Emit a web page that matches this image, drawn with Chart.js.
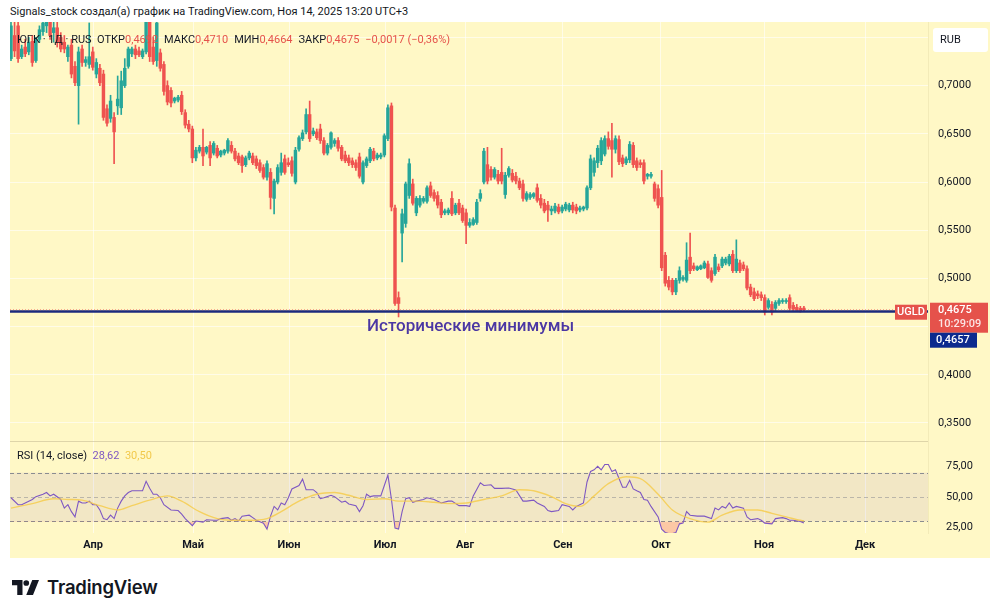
<!DOCTYPE html>
<html>
<head>
<meta charset="utf-8">
<script src="https://cdn.jsdelivr.net/npm/chart.js@4.4.1/dist/chart.umd.min.js"></script>
<style>
  body { margin:0; width:1000px; height:614px; background:#fff; position:relative; overflow:hidden;
         font-family: Roboto, "Noto Sans", sans-serif; color:#131722; }
  #bg { position:absolute; left:10px; top:22px; width:980px; height:536px; background:#FFF8C6; }
  .box { position:absolute; }
  #hdr { position:absolute; left:10px; top:5px; font-size:11px; color:#131722; white-space:nowrap; }
  #legend { position:absolute; left:17px; top:33px; font-size:11px; white-space:nowrap; }
  #legend .v { color:#E5524B; margin-right:6px; }
  #note { position:absolute; left:367px; top:315px; font-size:17px; font-weight:500; color:#4B37A3; white-space:nowrap; }
  #rsiHdr { position:absolute; left:17px; top:449px; font-size:11px; white-space:nowrap; }
  #logo { position:absolute; left:12px; top:576px; display:flex; align-items:center; }
  #logo span { font-family: Inter, Roboto, sans-serif; font-weight:600; font-size:18.5px; margin-left:8px; letter-spacing:-0.2px; }
</style>
</head>
<body>
<div id="bg"></div>
<div id="hdr">Signals_stock создал(а) график на TradingView.com, Ноя 14, 2025 13:20 UTC+3</div>
<div class="box" style="left:0;top:22px;width:1000px;height:419px;"><canvas id="price"></canvas></div>
<div class="box" style="left:0;top:441px;width:1000px;height:119px;"><canvas id="rsi"></canvas></div>
<div id="legend">ЮГК · 1Д · RUS&nbsp; ОТКР<span class="v">0,4692</span>МАКС<span class="v">0,4710</span>МИН<span class="v">0,4664</span>ЗАКР<span class="v">0,4675</span><span class="v">−0,0017 (−0,36%)</span></div>
<div id="note">Исторические минимумы</div>
<div id="rsiHdr">RSI (14, close)&nbsp; <span style="color:#7E57C2">28,62</span>&nbsp; <span style="color:#F2C94C">30,50</span></div>
<div id="logo">
  <svg width="27" height="15" viewBox="0 0 36 20"><path d="M0 0h14v20h-7v-13h-7z" fill="#131722"/><circle cx="19" cy="4" r="3.8" fill="#131722"/><path d="M27 0h9l-8 20h-9z" fill="#131722"/></svg>
  <span>TradingView</span>
</div>
<script>
// daily candles [open, high, low, close], one per session
const candles = [
  [0.728,0.772,0.726,0.762],[0.752,0.77,0.73,0.736],[0.762,0.772,0.724,0.728],[0.73,0.742,0.728,0.738],[0.74,0.748,0.73,0.733],
  [0.735,0.75,0.732,0.745],[0.746,0.752,0.72,0.724],[0.726,0.75,0.724,0.748],[0.748,0.762,0.745,0.758],[0.756,0.77,0.752,0.765],
  [0.762,0.775,0.755,0.77],[0.77,0.78,0.748,0.752],[0.755,0.775,0.745,0.76],[0.76,0.772,0.74,0.745],[0.75,0.755,0.735,0.738],
  [0.745,0.752,0.734,0.738],[0.73,0.742,0.725,0.74],[0.742,0.748,0.708,0.712],[0.72,0.725,0.70,0.703],[0.70,0.74,0.66,0.735],
  [0.738,0.742,0.72,0.724],[0.724,0.73,0.72,0.727],[0.722,0.765,0.718,0.73],[0.735,0.74,0.716,0.719],[0.712,0.728,0.708,0.724],
  [0.718,0.722,0.70,0.703],[0.712,0.716,0.664,0.667],[0.676,0.68,0.658,0.661],[0.666,0.69,0.662,0.684],[0.667,0.672,0.619,0.652],
  [0.679,0.71,0.67,0.686],[0.677,0.715,0.67,0.705],[0.70,0.728,0.698,0.718],[0.72,0.74,0.718,0.738],[0.733,0.74,0.73,0.738],
  [0.738,0.742,0.728,0.732],[0.736,0.74,0.73,0.732],[0.73,0.738,0.728,0.736],[0.735,0.78,0.733,0.77],[0.77,0.78,0.725,0.73],
  [0.74,0.75,0.722,0.725],[0.726,0.78,0.72,0.765],[0.734,0.738,0.715,0.718],[0.722,0.725,0.69,0.694],[0.70,0.705,0.68,0.683],
  [0.695,0.698,0.678,0.682],[0.684,0.688,0.682,0.687],[0.685,0.69,0.683,0.688],[0.69,0.694,0.67,0.673],[0.672,0.675,0.656,0.659],
  [0.66,0.664,0.652,0.655],[0.655,0.658,0.62,0.625],[0.625,0.636,0.622,0.633],[0.632,0.638,0.63,0.636],[0.636,0.655,0.617,0.627],
  [0.631,0.637,0.629,0.636],[0.638,0.642,0.617,0.625],[0.63,0.642,0.628,0.64],[0.635,0.638,0.625,0.627],[0.628,0.633,0.626,0.632],
  [0.63,0.634,0.628,0.633],[0.632,0.645,0.63,0.643],[0.638,0.642,0.63,0.632],[0.632,0.635,0.622,0.624],[0.627,0.63,0.618,0.62],
  [0.626,0.628,0.61,0.617],[0.618,0.627,0.616,0.625],[0.625,0.632,0.623,0.63],[0.627,0.63,0.618,0.62],[0.624,0.627,0.614,0.617],
  [0.62,0.623,0.61,0.612],[0.615,0.618,0.603,0.605],[0.605,0.622,0.602,0.619],[0.61,0.614,0.572,0.584],[0.583,0.603,0.567,0.601],
  [0.60,0.618,0.598,0.615],[0.61,0.63,0.607,0.62],[0.624,0.628,0.608,0.61],[0.62,0.625,0.616,0.618],[0.622,0.626,0.606,0.609],
  [0.60,0.636,0.598,0.633],[0.634,0.648,0.632,0.646],[0.645,0.654,0.643,0.651],[0.652,0.676,0.65,0.67],[0.67,0.684,0.642,0.645],
  [0.65,0.656,0.648,0.653],[0.652,0.655,0.644,0.646],[0.655,0.66,0.64,0.643],[0.643,0.646,0.628,0.63],[0.63,0.64,0.628,0.638],
  [0.636,0.652,0.634,0.651],[0.64,0.645,0.637,0.643],[0.643,0.646,0.632,0.635],[0.636,0.638,0.622,0.624],[0.628,0.632,0.62,0.622],
  [0.625,0.628,0.617,0.62],[0.622,0.625,0.615,0.618],[0.62,0.623,0.612,0.615],[0.626,0.63,0.604,0.606],[0.60,0.622,0.598,0.62],
  [0.617,0.626,0.615,0.624],[0.622,0.636,0.62,0.634],[0.632,0.635,0.622,0.624],[0.625,0.63,0.623,0.628],[0.626,0.63,0.624,0.628],
  [0.628,0.65,0.626,0.648],[0.645,0.68,0.643,0.677],[0.679,0.682,0.57,0.574],[0.573,0.576,0.472,0.474],[0.48,0.486,0.46,0.474],
  [0.547,0.572,0.517,0.567],[0.557,0.60,0.553,0.598],[0.586,0.624,0.583,0.619],[0.598,0.603,0.576,0.578],[0.568,0.585,0.565,0.583],
  [0.576,0.586,0.574,0.583],[0.58,0.585,0.578,0.583],[0.58,0.596,0.578,0.594],[0.596,0.60,0.584,0.586],[0.589,0.592,0.58,0.583],
  [0.586,0.59,0.573,0.576],[0.579,0.582,0.563,0.566],[0.568,0.572,0.566,0.57],[0.568,0.573,0.566,0.571],[0.583,0.59,0.565,0.567],
  [0.568,0.578,0.566,0.576],[0.578,0.582,0.566,0.568],[0.573,0.576,0.558,0.56],[0.568,0.572,0.536,0.555],[0.555,0.562,0.553,0.558],
  [0.556,0.563,0.555,0.561],[0.558,0.582,0.556,0.579],[0.583,0.592,0.58,0.588],[0.60,0.635,0.598,0.632],[0.618,0.636,0.598,0.601],
  [0.613,0.616,0.602,0.605],[0.605,0.615,0.603,0.613],[0.608,0.612,0.598,0.601],[0.61,0.635,0.598,0.601],[0.587,0.61,0.583,0.607],
  [0.607,0.616,0.605,0.614],[0.609,0.613,0.60,0.602],[0.606,0.61,0.598,0.601],[0.601,0.604,0.592,0.594],[0.598,0.602,0.58,0.583],
  [0.582,0.59,0.58,0.588],[0.584,0.589,0.582,0.587],[0.585,0.589,0.583,0.588],[0.594,0.598,0.579,0.581],[0.583,0.587,0.573,0.576],
  [0.578,0.582,0.568,0.57],[0.576,0.58,0.559,0.571],[0.57,0.575,0.566,0.572],[0.57,0.578,0.568,0.575],[0.574,0.577,0.567,0.569],
  [0.57,0.576,0.568,0.574],[0.572,0.579,0.57,0.577],[0.571,0.578,0.569,0.576],[0.576,0.579,0.568,0.571],[0.574,0.577,0.567,0.57],
  [0.571,0.575,0.569,0.573],[0.572,0.575,0.57,0.574],[0.573,0.596,0.571,0.594],[0.594,0.628,0.592,0.624],[0.61,0.625,0.606,0.622],
  [0.62,0.638,0.615,0.635],[0.622,0.646,0.618,0.643],[0.629,0.648,0.627,0.645],[0.645,0.652,0.634,0.637],[0.643,0.661,0.605,0.634],
  [0.634,0.648,0.63,0.645],[0.644,0.648,0.618,0.621],[0.625,0.628,0.616,0.619],[0.62,0.626,0.618,0.624],[0.623,0.642,0.62,0.639],
  [0.638,0.641,0.615,0.618],[0.622,0.625,0.612,0.615],[0.62,0.623,0.615,0.618],[0.62,0.623,0.598,0.601],[0.606,0.609,0.603,0.608],
  [0.606,0.61,0.604,0.608],[0.598,0.60,0.58,0.583],[0.593,0.597,0.573,0.576],[0.584,0.612,0.508,0.511],[0.524,0.527,0.492,0.495],
  [0.498,0.502,0.488,0.491],[0.498,0.50,0.483,0.486],[0.486,0.50,0.483,0.498],[0.498,0.512,0.495,0.508],[0.499,0.503,0.497,0.501],
  [0.498,0.537,0.496,0.519],[0.522,0.547,0.505,0.508],[0.513,0.516,0.508,0.51],[0.509,0.513,0.508,0.512],[0.51,0.514,0.509,0.513],
  [0.511,0.518,0.51,0.516],[0.515,0.518,0.50,0.501],[0.508,0.511,0.496,0.498],[0.505,0.525,0.503,0.522],[0.512,0.515,0.507,0.509],
  [0.513,0.522,0.511,0.52],[0.516,0.522,0.514,0.52],[0.515,0.525,0.513,0.523],[0.525,0.529,0.506,0.508],[0.508,0.54,0.506,0.52],
  [0.516,0.519,0.506,0.508],[0.514,0.517,0.508,0.51],[0.51,0.513,0.488,0.49],[0.491,0.494,0.481,0.483],[0.486,0.49,0.477,0.479],
  [0.484,0.487,0.479,0.482],[0.483,0.486,0.477,0.48],[0.48,0.483,0.462,0.465],[0.47,0.479,0.468,0.477],[0.473,0.476,0.462,0.465],
  [0.469,0.477,0.466,0.475],[0.474,0.479,0.472,0.477],[0.476,0.479,0.474,0.477],[0.476,0.479,0.474,0.477],[0.48,0.483,0.467,0.469],
  [0.472,0.475,0.466,0.468],[0.47,0.473,0.466,0.467],[0.469,0.471,0.465,0.466],[0.4692,0.471,0.4664,0.4675]
];

// RSI(14): session index -> value
const rsiIdx = [0,2,3,5,6,7,9,10,11,12,14,15,16,17,18,19,20,21,22,23,24,25,26,27,28,29,30,31,32,33,34,36,37,38,39,40,41,42,43,45,47,48,49,51,52,54,55,57,58,59,61,62,63,64,65,67,68,69,71,72,73,74,75,76,77,78,79,81,82,83,85,86,87,88,90,91,93,94,95,97,98,99,100,101,102,104,105,106,107,108,109,110,111,112,113,114,116,117,119,121,123,124,126,128,129,130,132,133,135,136,138,140,142,144,145,147,148,150,151,152,154,155,157,158,159,161,162,163,164,165,166,167,168,169,170,171,172,173,174,175,176,177,178,179,180,182,183,184,185,186,187,188,189,190,191,193,195,197,198,199,200,201,202,203,204,206,207,208,210,211,212,214,215,217,218,219,220,222,223];
const rsiVal = [49.4,43.7,43.7,46.6,48,50.3,52.3,53.7,50.9,52.3,48,40.9,43.7,38,33.7,46.6,45.1,45.1,46.6,43.7,43.7,39.4,32.3,31.4,35.1,32.3,40.9,46.6,50.9,53.7,55.1,55.1,55.1,62.9,57.1,52.3,52.3,49.4,43.7,39.4,38.9,36,32.3,26.6,30.3,29.4,31.4,30.9,30.9,32.3,33.1,30.9,32.3,30.3,34.3,35.1,33.1,30.9,28.6,23.7,34.3,42.3,39.4,45.1,43.7,49.4,56.6,59.4,64.6,56,56,53.7,48.6,49.4,51.4,50.3,45.7,46.6,44.3,42.9,38,42.9,52.3,50.3,50.9,50.9,59.4,68,48,24.6,23.7,38,48.6,49.4,45.7,46.6,48,49.4,48,45.1,46.6,46.6,42.9,42.9,42.3,50.9,61.7,59.4,60,57.1,57.1,57.4,55.7,46.6,46.6,47.4,45.1,42.3,38.9,38,38.9,43.7,42.3,39.4,42.3,45.1,62.3,70.9,72.3,75.1,72.3,76.6,76.6,70.9,72.3,65.1,58,58,63.7,56.6,55.1,53.7,48,47.4,42.3,33.7,23.7,20.9,20,20,20.9,28,28.6,38,35.1,34.3,34.3,32.3,40.9,39.4,42.3,40.9,45.1,40.9,42.3,40.9,33.7,31.4,32.3,30.9,28.6,28,32.3,33.1,32.3,30.9,30.9,30,28.6];

// RSI-based moving average (yellow), read at sparser sessions
const maIdx = [0,6,12,16,20,25,30,34,39,44,48,53,58,62,67,72,76,81,86,91,95,100,105,109,114,119,123,128,133,138,143,147,152,156,160,164,168,173,177,182,186,191,196,200,205,210,214,218,222,223];
const maVal = [40.9,44.6,48.6,48,47.4,42.9,39.4,42.9,47.4,50.9,46.6,38,32.3,30.9,30.9,32.3,38,46.6,52.3,53.7,51.4,48,48.6,46.6,46.6,45.7,44.6,45.1,48,50.9,56,55.1,50.3,44.6,42.3,50.9,60.9,66.6,65.1,52.3,39.4,32.3,29.4,35.1,39.4,39.4,36.6,33.7,30.9,30.5];

const months = ['Апр','Май','Июн','Июл','Авг','Сен','Окт','Ноя','Дек'];
const monthIdx = [23.1, 51.2, 78.2, 105.2, 127.7, 155.2, 182.8, 211.8, 240.2];
const priceTicks = [0.35, 0.40, 0.45, 0.50, 0.55, 0.60, 0.65, 0.70, 0.75];
const rsiTicks = [25, 50, 75];
const rsiLevels = [70, 50, 30];
const lastPrice = 0.4675;
const lowLevel = 0.4657;

const UP = '#26A69A', DOWN = '#EF5350', BG_GRID = 'rgba(255,255,255,0.6)';
const xMin = -0.28, xMax = 257.9;
Chart.defaults.font.family = 'Roboto, "Noto Sans", sans-serif';
Chart.defaults.color = '#131722';

const comma = (v, d) => v.toFixed(d).replace('.', ',');
const colorOf = c => c[3] >= c[0] ? UP : DOWN;
// fixed-width right axis, no extra label padding at the pane edges
const fitRight = s => { s.width = 72; s.paddingTop = 0; s.paddingBottom = 0; };

const xScale = (showLabels) => ({
  type: 'linear', min: xMin, max: xMax, offset: false,
  afterBuildTicks: s => { s.ticks = monthIdx.map(v => ({ value: v })); },
  afterFit: s => { s.height = showLabels ? 27 : 0; s.paddingLeft = 0; s.paddingRight = 0; },
  grid: { color: BG_GRID, drawTicks: false, offset: false },
  border: { display: false },
  ticks: {
    display: showLabels, padding: 6, maxRotation: 0, autoSkip: false,
    font: { size: 11, weight: 'bold' },
    callback: v => months[monthIdx.indexOf(v)]
  }
});

const priceOverlay = {
  id: 'priceOverlay',
  afterDraw(chart) {
    const { ctx, chartArea: a, scales: { y } } = chart;
    const yl = y.getPixelForValue(lowLevel);
    const yp = y.getPixelForValue(lastPrice);
    ctx.save();
    ctx.strokeStyle = '#1B2A7C'; ctx.lineWidth = 2.5;
    ctx.beginPath(); ctx.moveTo(a.left, yl); ctx.lineTo(a.right, yl); ctx.stroke();
    ctx.strokeStyle = 'rgba(239,83,80,0.6)'; ctx.lineWidth = 1; ctx.setLineDash([1, 2]);
    ctx.beginPath(); ctx.moveTo(a.left, yp); ctx.lineTo(a.right, yp); ctx.stroke();
    ctx.setLineDash([]);
    // symbol tag
    ctx.fillStyle = '#E5524B';
    ctx.fillRect(a.right - 33, yp - 5, 32, 15);
    ctx.fillStyle = '#fff'; ctx.font = '500 11px Roboto'; ctx.textAlign = 'center'; ctx.textBaseline = 'middle';
    ctx.fillText('UGLD', a.right - 17, yp + 3);
    // last price + countdown
    ctx.fillStyle = '#E5524B';
    ctx.fillRect(a.right + 2, yp - 7, 58, 30);
    ctx.fillStyle = '#fff'; ctx.textAlign = 'left';
    ctx.fillText(comma(lastPrice, 4), a.right + 10, yp + 1);
    ctx.fillStyle = 'rgba(255,255,255,0.85)';
    ctx.fillText('10:29:09', a.right + 10, yp + 15);
    // level tag
    ctx.fillStyle = '#0C2A8E';
    ctx.fillRect(a.right + 2, yp + 23, 47, 15);
    ctx.fillStyle = '#fff';
    ctx.fillText(comma(lowLevel, 4), a.right + 8, yp + 31);
    // currency box
    ctx.fillStyle = '#fff';
    ctx.beginPath(); ctx.roundRect(a.right + 5, 6, 55, 24, 3); ctx.fill();
    ctx.fillStyle = '#131722'; ctx.font = '11px Roboto';
    ctx.fillText('RUB', a.right + 12, 18);
    ctx.restore();
  }
};

new Chart(document.getElementById('price'), {
  type: 'bar',
  data: {
    datasets: [{
      data: candles.map((c, i) => ({ x: i, y: [c[2], c[1]] })),
      backgroundColor: candles.map(colorOf),
      barThickness: 1, grouped: false
    }, {
      data: candles.map((c, i) => ({ x: i, y: [c[0], c[3]] })),
      backgroundColor: candles.map(colorOf),
      barThickness: 2.8, minBarLength: 1, grouped: false
    }]
  },
  options: {
    responsive: true, maintainAspectRatio: false, animation: false,
    layout: { autoPadding: false, padding: { left: 10, right: 0, top: 0, bottom: 0 } },
    plugins: { legend: { display: false }, tooltip: { enabled: false } },
    scales: {
      x: xScale(false),
      y: {
        position: 'right', min: 0.3313, max: 0.766,
        afterBuildTicks: s => { s.ticks = priceTicks.map(v => ({ value: v })); },
        afterFit: fitRight,
        grid: { color: BG_GRID, drawTicks: false },
        border: { display: true, color: '#F3EBB8' },
        ticks: { padding: 10, font: { size: 11 }, callback: v => comma(v, 4) }
      }
    }
  },
  plugins: [priceOverlay]
});

const rsiBand = {
  id: 'rsiBand',
  beforeDatasetsDraw(chart) {
    const { ctx, chartArea: a, scales: { y } } = chart;
    ctx.save();
    ctx.fillStyle = 'rgba(126,87,194,0.1)';
    ctx.fillRect(a.left, y.getPixelForValue(70), a.width, y.getPixelForValue(30) - y.getPixelForValue(70));
    ctx.setLineDash([4, 3]); ctx.lineWidth = 1;
    rsiLevels.forEach(v => {
      ctx.strokeStyle = v === 50 ? 'rgba(120,123,134,0.45)' : 'rgba(120,123,134,0.85)';
      const yy = Math.round(y.getPixelForValue(v)) + 0.5;
      ctx.beginPath(); ctx.moveTo(a.left, yy); ctx.lineTo(a.right, yy); ctx.stroke();
    });
    ctx.setLineDash([]);
    ctx.strokeStyle = 'rgba(200,190,150,0.6)';
    ctx.beginPath(); ctx.moveTo(a.left, a.top + 0.5); ctx.lineTo(a.right, a.top + 0.5); ctx.stroke();
    ctx.restore();
  }
};

new Chart(document.getElementById('rsi'), {
  type: 'line',
  data: {
    datasets: [{
      data: maIdx.map((x, i) => ({ x, y: maVal[i] })),
      borderColor: 'rgba(246,202,70,0.8)', borderWidth: 1.4,
      pointRadius: 0, tension: 0.4, cubicInterpolationMode: 'monotone', fill: false
    }, {
      data: rsiIdx.map((x, i) => ({ x, y: rsiVal[i] })),
      borderColor: '#7E57C2', borderWidth: 1.1, pointRadius: 0, tension: 0,
      fill: { target: { value: 30 }, above: 'rgba(0,0,0,0)', below: 'rgba(242,54,69,0.25)' }
    }]
  },
  options: {
    responsive: true, maintainAspectRatio: false, animation: false,
    layout: { autoPadding: false, padding: { left: 10, right: 0, top: 0, bottom: 0 } },
    plugins: { legend: { display: false }, tooltip: { enabled: false } },
    scales: {
      x: xScale(true),
      y: {
        position: 'right', min: 20.5, max: 95.9,
        afterBuildTicks: s => { s.ticks = rsiTicks.map(v => ({ value: v })); },
        afterFit: fitRight,
        grid: { display: false },
        border: { display: true, color: '#F3EBB8' },
        ticks: { padding: 10, font: { size: 11 }, callback: v => comma(v, 2) }
      }
    }
  },
  plugins: [rsiBand]
});
</script>
</body>
</html>
